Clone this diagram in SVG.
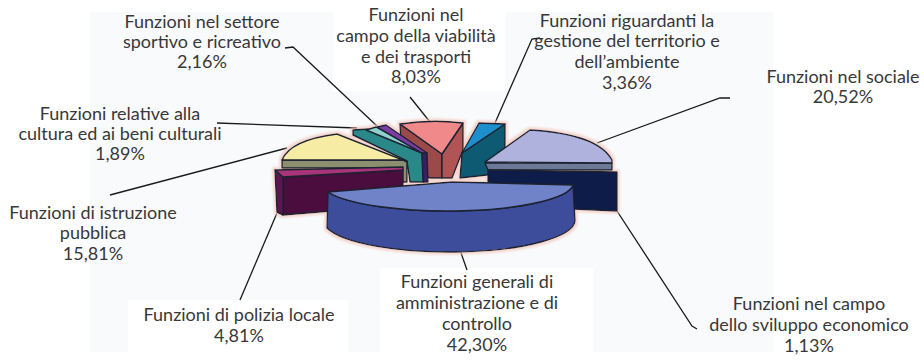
<svg xmlns="http://www.w3.org/2000/svg" width="924" height="360" viewBox="0 0 924 360">
<defs>
<style>
.lbl{font-family:Lato,"Open Sans","Liberation Sans",sans-serif;font-size:18px;fill:#383838;text-anchor:middle}
.ol{stroke:#1b2230;stroke-width:1.4;stroke-linejoin:round}
.ld{fill:none;stroke:#1a1a1a;stroke-width:1.3}
</style>
<filter id="halo" x="-10%" y="-10%" width="120%" height="120%">
<feMorphology in="SourceAlpha" operator="dilate" radius="2" result="d"/>
<feGaussianBlur in="d" stdDeviation="1" result="b"/>
<feFlood flood-color="#f0c6bd" flood-opacity="0.7"/>
<feComposite in2="b" operator="in" result="h"/>
<feMerge><feMergeNode in="h"/><feMergeNode in="SourceGraphic"/></feMerge>
</filter>
</defs>
<rect width="924" height="360" fill="#ffffff"/>
<rect x="90" y="12" width="683" height="340" fill="#f9fafb"/>
<rect x="333" y="9" width="172" height="82" fill="#ffffff"/>
<rect x="380" y="268" width="213" height="90" fill="#ffffff"/>
<rect x="128" y="300" width="220" height="52" fill="#ffffff"/>

<g id="connectors">
<polyline class="ld" points="285,48 293,47 377,126"/>
<polyline class="ld" points="217,123 357,128"/>
<polyline class="ld" points="110,195 287,148"/>
<polyline class="ld" points="240,300 277,213"/>
<polyline class="ld" points="410,97 430,122"/>
<polyline class="ld" points="495,123 532,39 540,38"/>
<polyline class="ld" points="730,98 720,98 597,143"/>
<polyline class="ld" points="617,211 692,326 697,329"/>
<polyline class="ld" points="460,250 467,270"/>
</g>

<g id="pie" filter="url(#halo)">
<g id="slice-viabilita">
<path class="ol" fill="#9c4a4a" d="M400,124 L442,154 L442,178 L430,178 L402,166 Z"/>
<path class="ol" fill="#b05454" d="M442,154 L463,123 L463,150 L452,178 L442,178 Z"/>
<path class="ol" fill="#f08a8a" d="M400,124 Q432,119 463,123 L442,154 Z"/>
</g>
<g id="slice-territorio">
<path class="ol" fill="#0f5a72" d="M462,153 L505,124 L505,173 L460,178 Z"/>
<path class="ol" fill="#1b8fcc" d="M479,123 L505,124 L462,153 Z"/>
</g>
<g id="slice-cultura">
<path class="ol" fill="#2a8888" d="M353,130 L368,129 L422,153 L424,182 L410,182 L407,161 L353,135 Z"/>
<path class="ol" fill="#8ed0d0" d="M366,130 L376,127 L422,153 Z"/>
</g>
<g id="slice-sportivo">
<path class="ol" fill="#3c1c60" d="M422,153 L427,153 L428,182 L423,182 Z"/>
<path class="ol" fill="#7c3ca4" d="M377,127 L386,125 L427,153 L422,153 Z"/>
</g>
<g id="slice-istruzione">
<path class="ol" fill="#8c8e70" d="M282,160 L403,160 L407,162 L407,182 L402,182 L402,168 L282,168 Z"/>
<path class="ol" fill="#f6eca4" d="M282,160 Q290,140 337,134 L403,160 Z"/>
</g>
<g id="slice-sociale">
<path class="ol" fill="#6c7a98" d="M485,163 L612,163 L612,170 L488,170 Z"/>
<path class="ol" fill="#aeb2dc" d="M485,162 L530,130 Q598,134 612,160 L612,163 Z"/>
</g>
<g id="slice-sviluppo">
<path class="ol" fill="#0e1a48" d="M488,170 L617,172 L617,211 L488,205 Z"/>
</g>
<g id="slice-polizia">
<path class="ol" fill="#4c0e3e" d="M283,177 L403,170 L403,205 L283,215 Z"/>
<path class="ol" fill="#5c1850" d="M275,170 L283,177 L283,215 L277,212 Z"/>
<path class="ol" fill="#a8347a" d="M275,170 L403,167 L403,170 L283,177 Z"/>
</g>
<g id="slice-generali">
<path class="ol" fill="#3c4d9c" d="M328,192 A126,28 0 0 0 573,185 L575,221 A126,32 0 0 1 327,228 Z"/>
<path class="ol" fill="#7083c8" d="M328,192 L452,182 L573,185 A126,28 0 0 1 328,192 Z"/>
</g>
</g>

<g id="label-sportivo">
<text class="lbl" x="202" y="28">Funzioni nel settore</text>
<text class="lbl" x="202" y="48">sportivo e ricreativo</text>
<text class="lbl" x="202" y="68">2,16%</text>
</g>
<g id="label-cultura">
<text class="lbl" x="120" y="120">Funzioni relative alla</text>
<text class="lbl" x="120" y="140">cultura ed ai beni culturali</text>
<text class="lbl" x="120" y="160">1,89%</text>
</g>
<g id="label-istruzione">
<text class="lbl" x="93" y="219">Funzioni di istruzione</text>
<text class="lbl" x="93" y="239">pubblica</text>
<text class="lbl" x="93" y="260">15,81%</text>
</g>
<g id="label-polizia">
<text class="lbl" x="239" y="321">Funzioni di polizia locale</text>
<text class="lbl" x="239" y="342">4,81%</text>
</g>
<g id="label-viabilita">
<text class="lbl" x="416" y="21">Funzioni nel</text>
<text class="lbl" x="416" y="42">campo della viabilità</text>
<text class="lbl" x="416" y="63">e dei trasporti</text>
<text class="lbl" x="416" y="83">8,03%</text>
</g>
<g id="label-territorio">
<text class="lbl" x="627" y="27">Funzioni riguardanti la</text>
<text class="lbl" x="627" y="47">gestione del territorio e</text>
<text class="lbl" x="627" y="68">dell’ambiente</text>
<text class="lbl" x="627" y="89">3,36%</text>
</g>
<g id="label-sociale">
<text class="lbl" x="843" y="83">Funzioni nel sociale</text>
<text class="lbl" x="843" y="103">20,52%</text>
</g>
<g id="label-generali">
<text class="lbl" x="477" y="288">Funzioni generali di</text>
<text class="lbl" x="477" y="309">amministrazione e di</text>
<text class="lbl" x="477" y="330">controllo</text>
<text class="lbl" x="477" y="351">42,30%</text>
</g>
<g id="label-sviluppo">
<text class="lbl" x="809" y="310">Funzioni nel campo</text>
<text class="lbl" x="809" y="331">dello sviluppo economico</text>
<text class="lbl" x="809" y="352">1,13%</text>
</g>
</svg>
